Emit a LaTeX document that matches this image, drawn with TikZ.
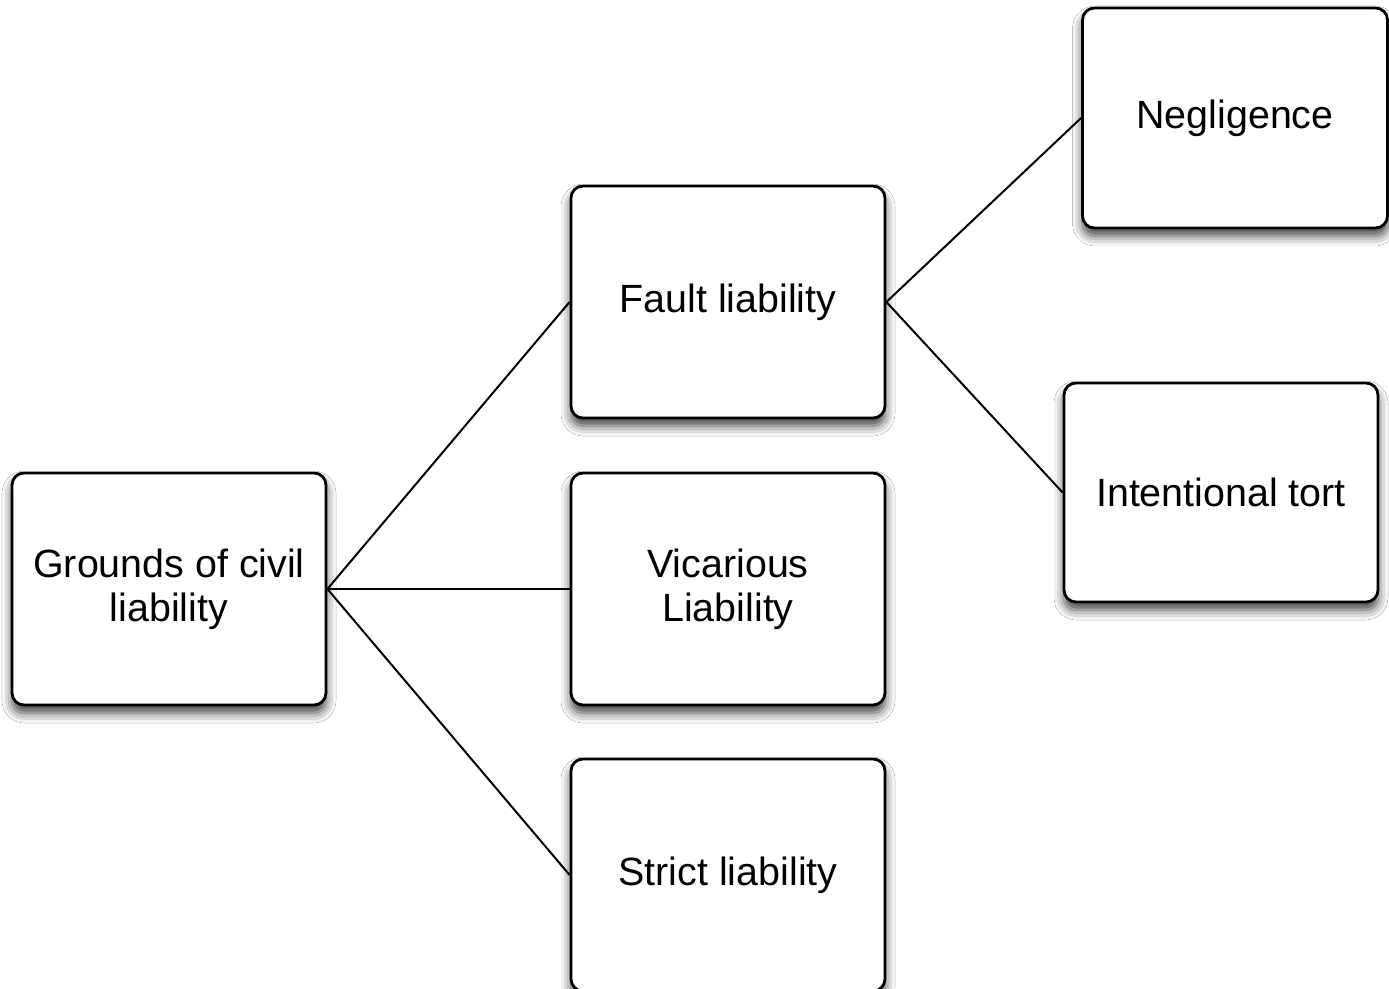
\documentclass[tikz,border=0pt]{standalone}
\usepackage{fontspec}
\setmainfont{Liberation Sans}
\usetikzlibrary{shadows.blur}
\begin{document}
\begin{tikzpicture}[x=0.5pt,y=-0.5pt,
  box/.style={draw, rounded corners=6pt, line width=1.4pt, fill=white, align=center,
    inner sep=0pt, font=\fontsize{19.7}{22}\selectfont,
    blur shadow={shadow xshift=0pt, shadow yshift=-4pt, shadow blur radius=5pt, shadow opacity=75}},
  link/.style={line width=1pt}]
\useasboundingbox[fill=white] (0,0) rectangle (1389,989);
\node[box, minimum width=157pt, minimum height=116pt] (ground) at (169,589) {Grounds of civil\\liability};
\node[box, minimum width=157pt, minimum height=116pt] (fault) at (728,302) {Fault liability};
\node[box, minimum width=157pt, minimum height=116pt] (vic) at (728,589) {Vicarious\\Liability};
\node[box, minimum width=157pt, minimum height=116pt] (strict) at (728,875) {Strict liability};
\node[box, minimum width=152.5pt, minimum height=110pt] (neg) at (1235,118) {Negligence};
\node[box, minimum width=157pt, minimum height=109.5pt] (int) at (1221,492.5) {Intentional tort};
\draw[link] (ground.east) -- (fault.west);
\draw[link] (ground.east) -- (vic.west);
\draw[link] (ground.east) -- (strict.west);
\draw[link] (fault.east) -- (neg.west);
\draw[link] (fault.east) -- (int.west);
\end{tikzpicture}
\end{document}
